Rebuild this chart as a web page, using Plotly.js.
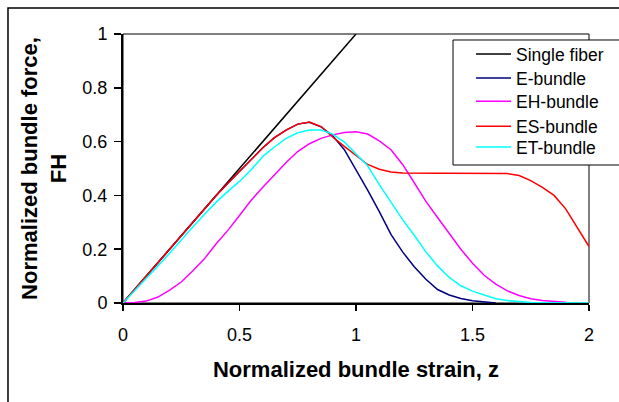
<!DOCTYPE html>
<html>
<head>
<meta charset="utf-8">
<script src="https://cdn.plot.ly/plotly-3.0.1.min.js"></script>
<style>
  html, body { margin: 0; padding: 0; background: #fff; }
  #chart { width: 619px; height: 402px; }
</style>
</head>
<body>
<div id="chart"></div>
<script>
// Normalized bundle strain, z (shared grid)
var z = [0, 0.05, 0.1, 0.15, 0.2, 0.25, 0.3, 0.35, 0.4, 0.45,
         0.5, 0.55, 0.6, 0.65, 0.7, 0.75, 0.8, 0.85, 0.9, 0.95,
         1.0, 1.05, 1.1, 1.15, 1.2, 1.25, 1.3, 1.35, 1.4, 1.45,
         1.5, 1.55, 1.6, 1.65, 1.7, 1.75, 1.8, 1.85, 1.9, 1.95, 2.0];

var singleFiberZ = [0, 1.0];
var singleFiber  = [0, 1.0];

var eBundle = [0, 0.05, 0.10, 0.15, 0.20, 0.25, 0.30, 0.35, 0.40, 0.445,
               0.49, 0.535, 0.577, 0.615, 0.643, 0.665, 0.672, 0.655, 0.622, 0.57,
               0.497, 0.42, 0.34, 0.255, 0.19, 0.135, 0.088, 0.05, 0.03, 0.017,
               0.008, 0.003, 0.0, null, null, null, null, null, null, null, null];

var ehBundle = [0, 0.002, 0.007, 0.022, 0.048, 0.078, 0.12, 0.165, 0.22, 0.27,
                0.325, 0.382, 0.43, 0.477, 0.522, 0.563, 0.592, 0.612, 0.625, 0.634,
                0.637, 0.628, 0.603, 0.57, 0.515, 0.447, 0.378, 0.318, 0.258, 0.2,
                0.148, 0.103, 0.07, 0.045, 0.028, 0.016, 0.009, 0.005, 0.003, null, null];

var esBundle = [0, 0.05, 0.10, 0.15, 0.20, 0.25, 0.30, 0.35, 0.40, 0.445,
                0.49, 0.535, 0.577, 0.615, 0.643, 0.665, 0.673, 0.656, 0.617, 0.582,
                0.548, 0.515, 0.497, 0.487, 0.483, 0.482, 0.482, 0.482, 0.482, 0.482,
                0.482, 0.482, 0.482, 0.481, 0.474, 0.455, 0.43, 0.40, 0.35, 0.28, 0.21];

var etBundle = [0, 0.045, 0.09, 0.138, 0.185, 0.235, 0.283, 0.33, 0.375, 0.415,
                0.452, 0.495, 0.545, 0.58, 0.612, 0.633, 0.643, 0.643, 0.628, 0.598,
                0.555, 0.51, 0.44, 0.375, 0.31, 0.252, 0.19, 0.138, 0.095, 0.064,
                0.044, 0.03, 0.016, 0.009, 0.005, 0.002, 0.001, 0, 0, 0, 0];

var seriesNames  = ["Single fiber", "E-bundle", "EH-bundle", "ES-bundle", "ET-bundle"];
var seriesColors = ["#000000", "#000080", "#FF00FF", "#FF0000", "#00FFFF"];

var xTicks = [0, 0.5, 1, 1.5, 2];
var xTickText = ["0", "0.5", "1", "1.5", "2"];
var yTicks = [0, 0.2, 0.4, 0.6, 0.8, 1];
var yTickText = ["0", "0.2", "0.4", "0.6", "0.8", "1"];

var seriesX = [singleFiberZ, z, z, z, z];
var seriesY = [singleFiber, eBundle, ehBundle, esBundle, etBundle];

// legend ids, one per entry, so rows can be spaced as in the reference
var legendIds = ["legend", "legend2", "legend3", "legend4", "legend5"];
var legendRowY = [0.925, 0.836, 0.750, 0.657, 0.579];

var traces = seriesNames.map(function (name, i) {
  return {
    type: "scatter",
    mode: "lines",
    name: name,
    x: seriesX[i],
    y: seriesY[i],
    legend: legendIds[i],
    line: { color: seriesColors[i], width: 1.5, shape: "linear" },
    connectgaps: false
  };
});

var font = "Liberation Sans, Arial, sans-serif";

var layout = {
  width: 619,
  height: 402,
  margin: { l: 123, r: 30, t: 34, b: 99, autoexpand: false },
  paper_bgcolor: "#ffffff",
  plot_bgcolor: "#ffffff",
  font: { family: font, color: "#000000", size: 18 },
  showlegend: true,
  xaxis: {
    range: [0, 2],
    tickvals: xTicks,
    ticktext: xTickText,
    ticks: "outside", ticklen: 6, tickwidth: 1.5, tickcolor: "#000",
    showline: true, linecolor: "#000", linewidth: 2,
    showgrid: false, zeroline: false,
    tickfont: { family: font, size: 18 },
    ticklabelstandoff: 8,
    automargin: false,
    title: { text: "<b>Normalized bundle strain, z</b>", font: { family: font, size: 22 }, standoff: 18 }
  },
  yaxis: {
    range: [0, 1],
    tickvals: yTicks,
    ticktext: yTickText,
    ticks: "outside", ticklen: 7, tickwidth: 1.5, tickcolor: "#000",
    showline: true, linecolor: "#000", linewidth: 2,
    showgrid: false, zeroline: false,
    tickfont: { family: font, size: 18 },
    ticklabelstandoff: 3,
    automargin: false,
    title: { text: "<b>Normalized bundle force,<br>FH</b>", font: { family: font, size: 22 }, standoff: 10 }
  },
  shapes: [
    { type: "rect", xref: "paper", yref: "paper", x0: 0, x1: 1, y0: 0, y1: 1,
      line: { color: "#000", width: 1 }, fillcolor: "rgba(0,0,0,0)", layer: "below" },
    { type: "rect", xref: "paper", yref: "paper", x0: -0.2468, x1: 1.5, y0: -0.5, y1: 1.0967,
      line: { color: "#000", width: 1.5 }, fillcolor: "rgba(0,0,0,0)", layer: "below" },
    // legend frame
    { type: "rect", xref: "paper", yref: "paper", x0: 0.7082, x1: 1.2, y0: 0.513, y1: 0.9777,
      line: { color: "#000", width: 1 }, fillcolor: "#ffffff", layer: "above" }
  ]
};

legendIds.forEach(function (id, i) {
  layout[id] = {
    x: 0.7468, y: legendRowY[i], xanchor: "left", yanchor: "middle",
    bgcolor: "rgba(0,0,0,0)", borderwidth: 0,
    font: { family: font, size: 17.5, color: "#000000" },
    itemwidth: 35
  };
});

Plotly.newPlot("chart", traces, layout, { displayModeBar: false, staticPlot: true });
</script>
</body>
</html>
